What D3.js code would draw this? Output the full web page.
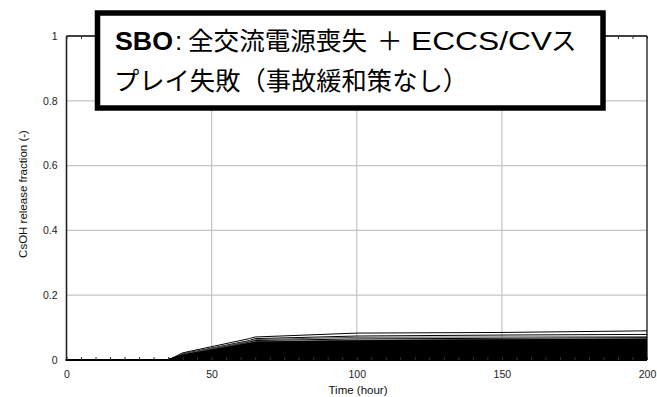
<!DOCTYPE html>
<html>
<head>
<meta charset="utf-8">
<script src="https://cdn.jsdelivr.net/npm/d3@7"></script>
<style>
  body { margin: 0; background: #fff; }
  svg { display: block; }
</style>
</head>
<body>
<svg id="chart" width="657" height="397"></svg>
<script>
// Sample times (hour) shared by every run
const hours = [0, 35, 40, 63, 65, 100, 150, 200];

// CsOH release fraction of each uncertainty run, one value per sample time
const releaseRuns = [
  [0, 0, 0.022, 0.066, 0.071, 0.083, 0.085, 0.090],
  [0, 0, 0.019, 0.060, 0.066, 0.074, 0.077, 0.079],
  [0, 0, 0.018, 0.058, 0.063, 0.070, 0.071, 0.072],
  [0, 0, 0.016, 0.055, 0.060, 0.065, 0.067, 0.069],
  [0, 0, 0.017, 0.053, 0.057, 0.061, 0.064, 0.065],
  [0, 0, 0.015, 0.051, 0.055, 0.059, 0.062, 0.064],
  [0, 0, 0.014, 0.049, 0.053, 0.057, 0.060, 0.062],
  [0, 0, 0.013, 0.047, 0.051, 0.056, 0.059, 0.061],
  [0, 0, 0.013, 0.045, 0.049, 0.054, 0.057, 0.059],
  [0, 0, 0.012, 0.043, 0.047, 0.052, 0.055, 0.057],
  [0, 0, 0.011, 0.041, 0.045, 0.050, 0.053, 0.055],
  [0, 0, 0.011, 0.039, 0.043, 0.049, 0.051, 0.053],
  [0, 0, 0.010, 0.038, 0.041, 0.047, 0.050, 0.052],
  [0, 0, 0.010, 0.036, 0.039, 0.045, 0.048, 0.050],
  [0, 0, 0.009, 0.034, 0.037, 0.043, 0.046, 0.048],
  [0, 0, 0.009, 0.032, 0.035, 0.041, 0.044, 0.046],
  [0, 0, 0.008, 0.030, 0.033, 0.039, 0.042, 0.044],
  [0, 0, 0.008, 0.029, 0.032, 0.037, 0.040, 0.042],
  [0, 0, 0.007, 0.027, 0.030, 0.035, 0.038, 0.040],
  [0, 0, 0.007, 0.025, 0.028, 0.033, 0.036, 0.038],
  [0, 0, 0.006, 0.024, 0.026, 0.031, 0.034, 0.036],
  [0, 0, 0.006, 0.022, 0.025, 0.029, 0.032, 0.034],
  [0, 0, 0.005, 0.020, 0.023, 0.027, 0.030, 0.032],
  [0, 0, 0.005, 0.019, 0.021, 0.025, 0.028, 0.030],
  [0, 0, 0.004, 0.017, 0.019, 0.023, 0.026, 0.028],
  [0, 0, 0.004, 0.015, 0.017, 0.021, 0.024, 0.026],
  [0, 0, 0.003, 0.014, 0.016, 0.019, 0.022, 0.024],
  [0, 0, 0.003, 0.012, 0.014, 0.017, 0.020, 0.022],
  [0, 0, 0.003, 0.011, 0.012, 0.015, 0.018, 0.020],
  [0, 0, 0.002, 0.009, 0.011, 0.013, 0.016, 0.018],
  [0, 0, 0.002, 0.008, 0.009, 0.011, 0.014, 0.016],
  [0, 0, 0.002, 0.006, 0.007, 0.009, 0.012, 0.014],
  [0, 0, 0.001, 0.005, 0.006, 0.008, 0.010, 0.012],
  [0, 0, 0.001, 0.004, 0.005, 0.006, 0.008, 0.010],
  [0, 0, 0.001, 0.003, 0.004, 0.005, 0.006, 0.008],
  [0, 0, 0.001, 0.002, 0.003, 0.004, 0.005, 0.006],
  [0, 0, 0.000, 0.001, 0.002, 0.003, 0.003, 0.004],
  [0, 0, 0.000, 0.001, 0.001, 0.002, 0.002, 0.002]
];

const xTicks = [0, 50, 100, 150, 200];
const yTicks = [0, 0.2, 0.4, 0.6, 0.8, 1];
const xTitle = "Time (hour)";
const yTitle = "CsOH release fraction (-)";

const svg = d3.select("#chart");
const x = d3.scaleLinear().domain([0, 200]).range([66.5, 647]);
const y = d3.scaleLinear().domain([0, 1]).range([360, 36]);
const latin = "'Liberation Sans', Arial, sans-serif";
const cjk = "'Noto Sans CJK JP', sans-serif";

// grid
const grid = svg.append("g").attr("stroke", "#c4c4c4").attr("stroke-width", 1.2);
grid.selectAll("line.gx").data(xTicks.slice(1, -1)).join("line")
  .attr("x1", d => x(d)).attr("x2", d => x(d))
  .attr("y1", y(0)).attr("y2", y(1));
grid.selectAll("line.gy").data(yTicks.slice(1, -1)).join("line")
  .attr("x1", x(0)).attr("x2", x(200))
  .attr("y1", d => y(d)).attr("y2", d => y(d));

// runs
const line = d3.line().x((d, i) => x(hours[i])).y(d => y(d));
svg.append("g").selectAll("path").data(releaseRuns).join("path")
  .attr("d", line)
  .attr("fill", "none")
  .attr("stroke", (d, i) => (i === 2 || i === 4) ? "#555" : "#000")
  .attr("stroke-width", (d, i) => i < 5 ? 1 : 1.4);

// frame
svg.append("line").attr("x1", x(0)).attr("x2", x(200)).attr("y1", y(1)).attr("y2", y(1))
  .attr("stroke", "#000").attr("stroke-width", 1.5);
svg.append("line").attr("x1", x(200)).attr("x2", x(200)).attr("y1", y(1)).attr("y2", y(0))
  .attr("stroke", "#000").attr("stroke-width", 1.2);
svg.append("line").attr("x1", x(0)).attr("x2", x(0)).attr("y1", y(1)).attr("y2", y(0))
  .attr("stroke", "#222").attr("stroke-width", 1.6);
svg.append("line").attr("x1", x(0) - 1).attr("x2", x(200)).attr("y1", y(0)).attr("y2", y(0))
  .attr("stroke", "#000").attr("stroke-width", 2.2);

// minor ticks on bottom and top edges
const minor = d3.range(0, 201, 5);
svg.append("g").attr("transform", `translate(0,${y(0)})`)
  .call(d3.axisBottom(x).tickValues(minor).tickSize(-3).tickFormat(""))
  .call(g => g.select(".domain").remove())
  .selectAll("line").attr("stroke", "#333");
svg.append("g").attr("transform", `translate(0,${y(1)})`)
  .call(d3.axisTop(x).tickValues(minor).tickSize(-3).tickFormat(""))
  .call(g => g.select(".domain").remove())
  .selectAll("line").attr("stroke", "#333");

// tick labels
svg.append("g").attr("transform", `translate(0,${y(0) + 8})`)
  .call(d3.axisBottom(x).tickValues(xTicks).tickSize(0).tickFormat(d3.format("d")))
  .call(g => g.select(".domain").remove())
  .selectAll("text")
  .attr("font-family", latin).attr("font-size", 10.5).attr("fill", "#222");

svg.append("g").attr("transform", `translate(${x(0) - 6},0)`)
  .call(d3.axisLeft(y).tickValues(yTicks).tickSize(0).tickFormat(d => d3.format("~g")(d)))
  .call(g => g.select(".domain").remove())
  .selectAll("text")
  .attr("font-family", latin).attr("font-size", 10.5).attr("fill", "#222");

// axis titles
svg.append("text").attr("x", 358).attr("y", 394).attr("text-anchor", "middle")
  .attr("font-family", latin).attr("font-size", 11.5).attr("fill", "#111").text(xTitle);
svg.append("text").attr("transform", `translate(27,194) rotate(-90)`).attr("text-anchor", "middle")
  .attr("font-family", latin).attr("font-size", 11.5).attr("fill", "#111").text(yTitle);

// scenario caption box
svg.append("rect").attr("x", 97.5).attr("y", 13).attr("width", 505.5).attr("height", 95)
  .attr("fill", "#fff").attr("stroke", "#000").attr("stroke-width", 5.5);

const cap = svg.append("text").attr("font-family", cjk).attr("font-size", 25.5).attr("fill", "#000");
cap.append("tspan").attr("x", 115).attr("y", 50).attr("font-family", latin)
  .attr("font-size", 26).attr("font-weight", "bold")
  .attr("textLength", 58).attr("lengthAdjust", "spacingAndGlyphs").text("SBO");
cap.append("tspan").attr("x", 175).attr("y", 50).attr("font-family", latin).attr("font-size", 26).text(":");
cap.append("tspan").attr("x", 188).attr("y", 50)
  .attr("textLength", 179).attr("lengthAdjust", "spacingAndGlyphs").text("全交流電源喪失");
cap.append("tspan").attr("x", 377).attr("y", 50).text("＋");
cap.append("tspan").attr("x", 411).attr("y", 50).attr("font-family", latin).attr("font-size", 26)
  .attr("textLength", 141).attr("lengthAdjust", "spacingAndGlyphs").text("ECCS/CV");
cap.append("tspan").attr("x", 551).attr("y", 50).text("ス");

svg.append("text").attr("x", 114).attr("y", 90)
  .attr("font-family", cjk).attr("font-size", 25.5).attr("fill", "#000")
  .attr("textLength", 354).attr("lengthAdjust", "spacingAndGlyphs")
  .text("プレイ失敗（事故緩和策なし）");
</script>
</body>
</html>
